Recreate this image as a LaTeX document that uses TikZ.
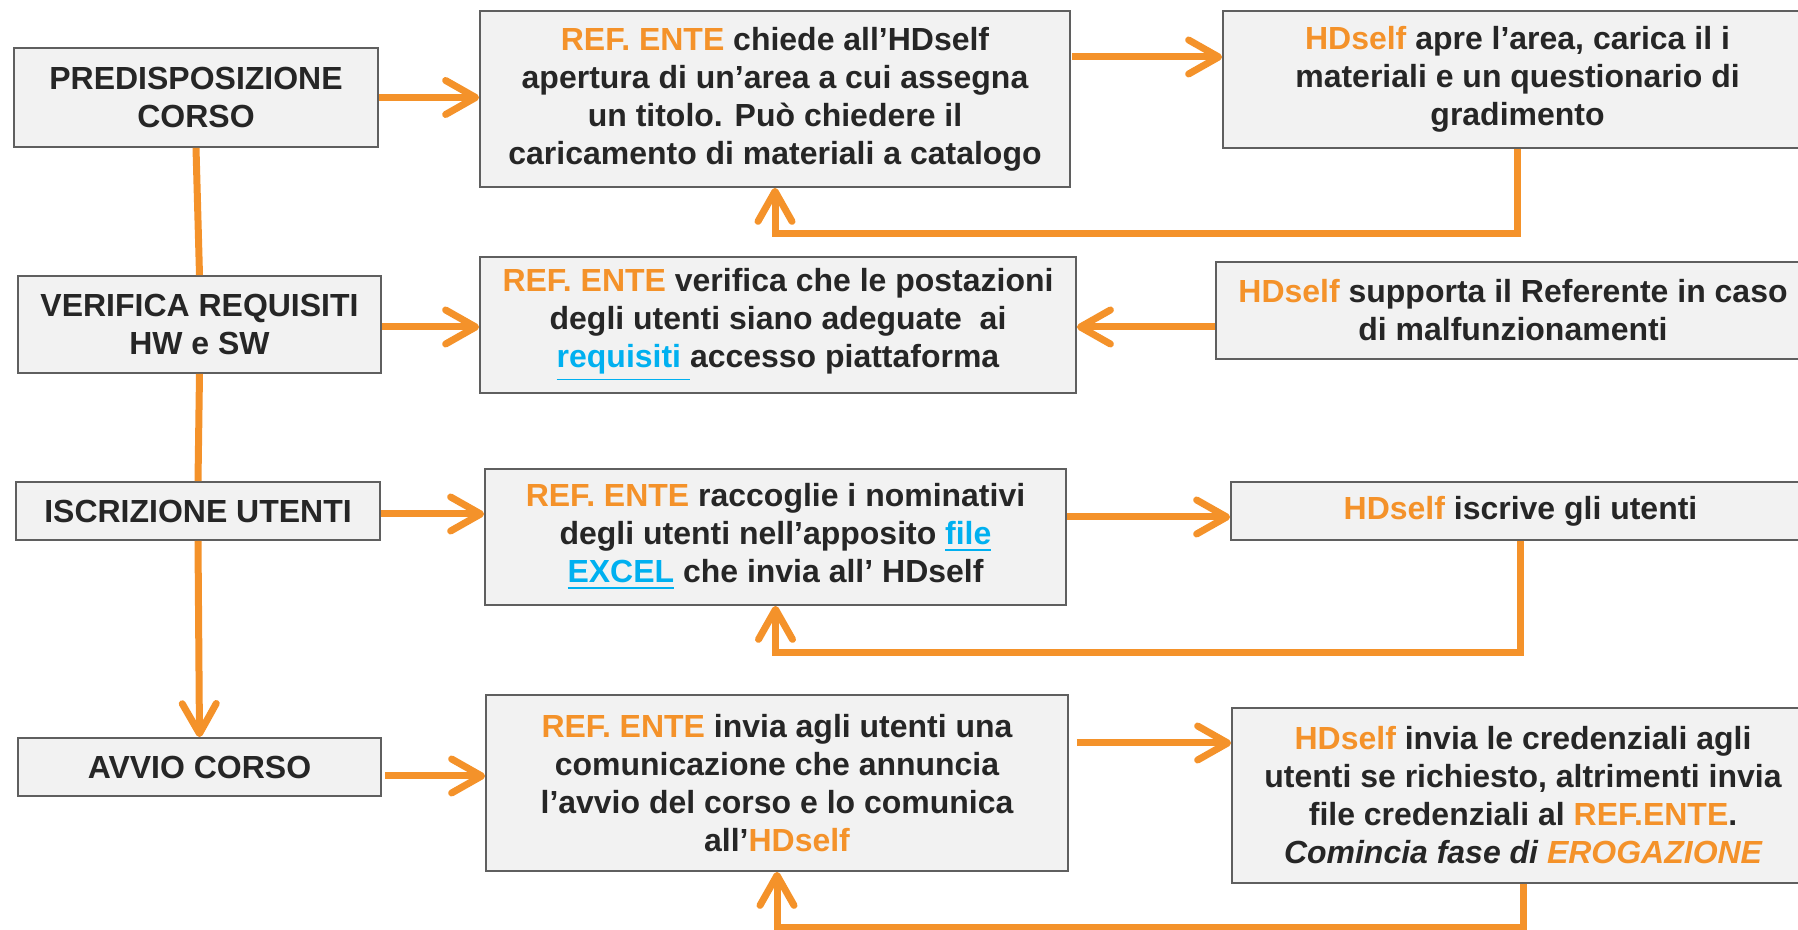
\documentclass[tikz,border=0pt]{standalone}
\usepackage{fontspec}
\setmainfont{Liberation Sans}
\usepackage{tikz}
\usetikzlibrary{positioning,arrows.meta}

\definecolor{hdorange}{RGB}{244,146,42}
\definecolor{boxgray}{RGB}{242,242,242}
\definecolor{edgegray}{RGB}{95,95,95}
\definecolor{linkblue}{RGB}{0,176,240}
\definecolor{txtdark}{RGB}{38,38,38}

\newcommand{\refente}{\textcolor{hdorange}{REF. ENTE}}
\newcommand{\hds}{\textcolor{hdorange}{HDself}}
\newcommand{\hdlink}[1]{{\color{linkblue}\underline{#1}}}

\begin{document}
\begin{tikzpicture}[x=0.1mm,y=-0.1mm,
	box/.style={draw=edgegray,line width=0.5pt,fill=boxgray,align=center,inner sep=0pt,
		text=txtdark,font=\bfseries\fontsize{9.1}{10.8}\selectfont},
	flow/.style={draw=hdorange,line width=0.7mm,-{Straight Barb[length=3mm,width=3.4mm,round]}},
	link/.style={draw=hdorange,line width=0.7mm}]
	\useasboundingbox (0,0) rectangle (1798,930);
	\clip (0,0) rectangle (1798,930);
	
	% left column
	\node[box,minimum width=36.4mm,minimum height=9.9mm] (pred) at (196,97.5) {PREDISPOSIZIONE\\CORSO};
	\node[box,minimum width=36.3mm,minimum height=9.7mm] (ver) at (199.5,324.5) {VERIFICA REQUISITI\\HW e SW};
	\node[box,minimum width=36.4mm,minimum height=5.8mm] (iscr) at (198,511) {ISCRIZIONE UTENTI};
	\node[box,minimum width=36.3mm,minimum height=5.8mm] (avvio) at (199.5,767) {AVVIO CORSO};
	
	% middle column
	\node[box,minimum width=59mm,minimum height=17.6mm] (ref1) at (775,99)
		{\refente{} chiede all’HDself\\apertura di un’area a cui assegna\\un titolo. Può chiedere il\\caricamento di materiali a catalogo};
	\node[box,minimum width=59.6mm,minimum height=13.6mm] (ref2) at (778,325)
		{\refente{} verifica che le postazioni\\degli utenti siano adeguate\ \ ai\\\hdlink{requisiti\ }accesso piattaforma};
	\node[box,minimum width=58.1mm,minimum height=13.6mm] (ref3) at (775.5,537)
		{\refente{} raccoglie i nominativi\\degli utenti nell’apposito \hdlink{file}\\\hdlink{EXCEL} che invia all’\ HDself};
	\node[box,minimum width=58.2mm,minimum height=17.6mm] (ref4) at (777,783)
		{\refente{} invia agli utenti una\\comunicazione che annuncia\\l’avvio del corso e lo comunica\\all’\hds};
	
	% right column
	\node[box,minimum width=58.9mm,minimum height=13.7mm] (hd1) at (1517.5,79.5)
		{\hds{} apre l’area, carica il i\\materiali e un questionario di\\gradimento};
	\node[box,minimum width=59.4mm,minimum height=9.7mm] (hd2) at (1513,310.5)
		{\hds{} supporta il Referente in caso\\di malfunzionamenti};
	\node[box,minimum width=57.9mm,minimum height=5.8mm] (hd3) at (1520.5,511)
		{\hds{} iscrive gli utenti};
	\node[box,minimum width=58.2mm,minimum height=17.5mm] (hd4) at (1523,795.5)
		{\hds{} invia le credenziali agli\\utenti se richiesto, altrimenti invia\\file credenziali al \textcolor{hdorange}{REF.ENTE}.\\\textit{Comincia fase di \textcolor{hdorange}{EROGAZIONE}}};
	
	% steps down the left
	\draw[link] (pred.south) -- (ver.north);
	\draw[link] (ver.south) -- (iscr.north);
	\draw[flow] (iscr.south) -- (avvio.north);
	
	% left to middle
	\draw[flow] (pred.east) -- (pred.east -| ref1.west);
	\draw[flow] ([yshift=-0.25mm]ver.east) -- ([yshift=-0.25mm]ver.east -| ref2.west);
	\draw[flow] ([yshift=-0.3mm]iscr.east) -- ([yshift=-0.3mm]iscr.east -| ref3.west);
	\draw[flow] ([xshift=0.3mm,yshift=-0.9mm]avvio.east) -- ([yshift=-0.9mm]avvio.east -| ref4.west);
	
	% middle to right
	\draw[flow] ([xshift=0.1mm,yshift=4.2mm]ref1.east) -- ([yshift=4.2mm]ref1.east -| hd1.west);
	\draw[flow] ([yshift=-1.65mm]hd2.west) -- ([yshift=-1.65mm]hd2.west -| ref2.east);
	\draw[flow] ([yshift=2mm]ref3.east) -- ([yshift=2mm]ref3.east -| hd3.west);
	\draw[flow] ([xshift=0.8mm,yshift=4mm]ref4.east) -- ([yshift=4mm]ref4.east -| hd4.west);
	
	% back to the middle
	\draw[flow] (hd1.south) -- ++(0,85) -| (ref1.south);
	\draw[flow] (hd3.south) -- ++(0,112) -| (ref3.south);
	\draw[flow] (hd4.south) -- ++(0,44) -| (ref4.south);
\end{tikzpicture}
\end{document}
